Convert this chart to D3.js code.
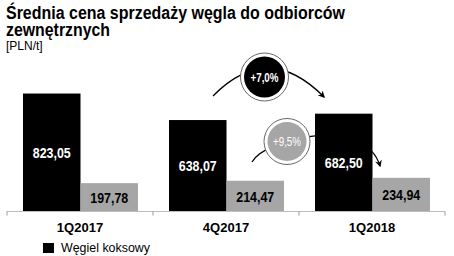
<!DOCTYPE html>
<html>
<head>
<meta charset="utf-8">
<script src="https://cdn.jsdelivr.net/npm/d3@7"></script>
<style>
  body { margin: 0; background: #fff; }
  svg { display: block; }
</style>
</head>
<body>
<div id="chart"></div>
<script>
// data
var quarters = ["1Q2017", "4Q2017", "1Q2018"];
var koksowy = [823.05, 638.07, 682.50];
var energetyczny = [197.78, 214.47, 234.94];
var changeLabels = ["+7,0%", "+9,5%"];

var W = 454, H = 256;
var sans = "'Liberation Sans', Arial, sans-serif";

var svg = d3.select("#chart").append("svg")
    .attr("width", W)
    .attr("height", H);

// title
var title = svg.append("text")
    .attr("font-family", sans)
    .attr("font-weight", "bold")
    .attr("font-size", 17.5)
    .attr("fill", "#000");
title.append("tspan").attr("x", 6).attr("y", 18.5)
    .attr("textLength", 339).attr("lengthAdjust", "spacingAndGlyphs")
    .text("Średnia cena sprzedaży węgla do odbiorców");
title.append("tspan").attr("x", 6).attr("y", 36)
    .attr("textLength", 104).attr("lengthAdjust", "spacingAndGlyphs")
    .text("zewnętrznych");

svg.append("text")
    .attr("x", 6)
    .attr("y", 50)
    .attr("font-family", sans)
    .attr("font-size", 12)
    .text("[PLN/t]");

// scales
var x0 = d3.scaleBand().domain(quarters).range([7, 445]).paddingInner(0).paddingOuter(0);
var x1 = d3.scaleBand().domain(["k", "e"]).range([16, x0.bandwidth() - 15]);
var y = d3.scaleLinear().domain([0, 900]).range([211.5, 82.5]);

// change arrows (drawn first, so they pass behind circles and bars)
svg.append("defs").append("marker")
    .attr("id", "arrow")
    .attr("viewBox", "0 0 10 10")
    .attr("refX", 8)
    .attr("refY", 5)
    .attr("markerWidth", 7)
    .attr("markerHeight", 7)
    .attr("markerUnits", "userSpaceOnUse")
    .attr("orient", "auto")
    .append("path")
    .attr("d", "M0,0 L10,5 L0,10 L3,5 Z")
    .attr("fill", "#000");

var arcs = [
    { d: "M213,96 Q268,40 324,97", fill: "#000", text: "#fff", cx: 264.5, cy: 77, r: 24, weight: "bold" },
    { d: "M252,162 C265,138 365,115 380,166", fill: "#a6a6a6", text: "#fff", cx: 287, cy: 141.5, r: 23, weight: "normal" }
];

svg.selectAll("path.arc")
    .data(arcs)
    .enter()
    .append("path")
    .attr("class", "arc")
    .attr("d", function (d) { return d.d; })
    .attr("fill", "none")
    .attr("stroke", "#000")
    .attr("stroke-width", 1.3)
    .attr("marker-end", "url(#arrow)");

// bars
var groups = svg.selectAll("g.q")
    .data(quarters)
    .enter()
    .append("g")
    .attr("class", "q")
    .attr("transform", function (d) { return "translate(" + x0(d) + ",0)"; });

var rows = quarters.map(function (q, i) {
    return [
        { key: "k", v: koksowy[i], fill: "#000", text: "#fff" },
        { key: "e", v: energetyczny[i], fill: "#a6a6a6", text: "#000" }
    ];
});

groups.each(function (q, i) {
    var g = d3.select(this);
    g.selectAll("rect")
        .data(rows[i])
        .enter()
        .append("rect")
        .attr("x", function (d) { return x1(d.key); })
        .attr("width", x1.bandwidth())
        .attr("y", function (d) { return y(d.v); })
        .attr("height", function (d) { return y(0) - y(d.v); })
        .attr("fill", function (d) { return d.fill; });

    // labels are condensed, like the narrow face of the original
    g.selectAll("text.val")
        .data(rows[i])
        .enter()
        .append("text")
        .attr("class", "val")
        .attr("x", function (d) { return x1(d.key) + x1.bandwidth() / 2 - 19; })
        .attr("y", function (d) { return (y(d.v) + y(0)) / 2; })
        .attr("dy", "0.36em")
        .attr("font-family", sans)
        .attr("font-weight", "bold")
        .attr("font-size", 15.5)
        .attr("textLength", 38)
        .attr("lengthAdjust", "spacingAndGlyphs")
        .attr("fill", function (d) { return d.text; })
        .text(function (d) { return d3.format(".2f")(d.v).replace(".", ","); });
});

// change bubbles
var bubbles = svg.selectAll("g.bubble")
    .data(arcs)
    .enter()
    .append("g")
    .attr("class", "bubble")
    .attr("transform", function (d) { return "translate(" + d.cx + "," + d.cy + ")"; });

bubbles.append("circle")
    .attr("r", function (d) { return d.r; })
    .attr("fill", "#fff")
    .attr("stroke", "#666")
    .attr("stroke-width", 1);

bubbles.append("circle")
    .attr("r", function (d) { return d.r - 3.5; })
    .attr("fill", function (d) { return d.fill; });

bubbles.append("text")
    .attr("x", -14)
    .attr("dy", "0.36em")
    .attr("font-family", sans)
    .attr("font-weight", function (d) { return d.weight; })
    .attr("font-size", 13)
    .attr("textLength", 28)
    .attr("lengthAdjust", "spacingAndGlyphs")
    .attr("fill", function (d) { return d.text; })
    .text(function (d, i) { return changeLabels[i]; });

// x axis
var axis = svg.append("g")
    .attr("transform", "translate(0," + y(0) + ")");
axis.append("line")
    .attr("x1", 7).attr("x2", 445)
    .attr("stroke", "#bdbdbd").attr("stroke-width", 1.2);
axis.selectAll("line.tick")
    .data(quarters.concat(["end"]))
    .enter()
    .append("line")
    .attr("class", "tick")
    .attr("x1", function (d, i) { return i < quarters.length ? x0(d) : 445; })
    .attr("x2", function (d, i) { return i < quarters.length ? x0(d) : 445; })
    .attr("y1", 0).attr("y2", 4)
    .attr("stroke", "#999");
axis.selectAll("text")
    .data(quarters)
    .enter()
    .append("text")
    .attr("x", function (d) { return x0(d) + x0.bandwidth() / 2; })
    .attr("y", 20)
    .attr("text-anchor", "middle")
    .attr("font-family", sans)
    .attr("font-weight", "bold")
    .attr("font-size", 13)
    .text(function (d) { return d; });

// legend
var legend = svg.append("g").attr("transform", "translate(43,243)");
legend.append("rect").attr("width", 11).attr("height", 10).attr("fill", "#000");
legend.append("text")
    .attr("x", 18)
    .attr("y", 5)
    .attr("dy", "0.36em")
    .attr("font-family", sans)
    .attr("font-size", 12)
    .attr("textLength", 89)
    .attr("lengthAdjust", "spacingAndGlyphs")
    .text("Węgiel koksowy");
</script>
</body>
</html>
